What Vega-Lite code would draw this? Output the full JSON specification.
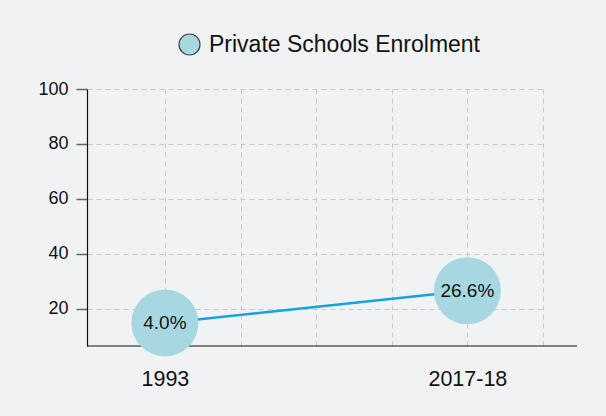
{
  "$schema": "https://vega.github.io/schema/vega-lite/v6.json",
  "width": 456,
  "height": 257,
  "autosize": {"type": "none"},
  "padding": {"left": 87, "top": 89, "right": 63, "bottom": 70},
  "background": "#f1f2f4",
  "config": {"view": {"stroke": null}, "font": "Liberation Sans"},
  "data": {
    "values": [
      {"idx": 0, "year": "1993", "pos": 14.9, "share": 4.0, "label": "4.0%", "series": "Private Schools Enrolment"},
      {"idx": 4, "year": "2017-18", "pos": 26.6, "share": 26.6, "label": "26.6%", "series": "Private Schools Enrolment"}
    ]
  },
  "layer": [
    {
      "data": {"values": [{"from": -1.03, "to": 5.45, "base": 6.5}]},
      "mark": {"type": "rule", "color": "#111", "strokeWidth": 1.2},
      "encoding": {
        "x": {
          "field": "from",
          "type": "quantitative",
          "scale": {"domain": [-1.03, 5], "nice": false, "zero": false},
          "axis": {
            "values": [0, 1, 2, 3, 4, 5],
            "labelExpr": "datum.value == 0 ? '1993' : datum.value == 4 ? '2017-18' : ''",
            "ticks": false,
            "domain": false,
            "grid": true,
            "gridDash": [5, 4],
            "gridColor": "#c8c9cc",
            "labelFontSize": 21.5,
            "labelColor": "#111",
            "labelPadding": 22,
            "labelFlush": false,
            "labelOverlap": false,
            "title": null
          }
        },
        "x2": {"field": "to"},
        "y": {
          "field": "base",
          "type": "quantitative",
          "scale": {"domain": [6.5, 100], "nice": false, "zero": false},
          "axis": {
            "values": [20, 40, 60, 80, 100],
            "tickSize": 11,
            "tickColor": "#666",
            "tickWidth": 1.5,
            "domainColor": "#111",
            "domainWidth": 1.2,
            "labelFontSize": 18,
            "labelColor": "#111",
            "labelPadding": 8,
            "grid": true,
            "gridDash": [5, 4],
            "gridColor": "#c8c9cc",
            "title": null
          }
        }
      }
    },
    {
      "mark": {"type": "line", "color": "#16a3da", "strokeWidth": 2.5},
      "encoding": {
        "x": {"field": "idx", "type": "quantitative"},
        "y": {"field": "pos", "type": "quantitative"}
      }
    },
    {
      "mark": {"type": "circle", "size": 4490, "opacity": 1},
      "encoding": {
        "x": {"field": "idx", "type": "quantitative"},
        "y": {"field": "pos", "type": "quantitative"},
        "color": {
          "field": "series",
          "type": "nominal",
          "scale": {"range": ["#a7d8e1"]},
          "legend": {
            "title": null,
            "orient": "none",
            "legendX": 91,
            "legendY": -56,
            "direction": "horizontal",
            "symbolType": "circle",
            "symbolSize": 441,
            "symbolStrokeColor": "#444",
            "symbolStrokeWidth": 1.2,
            "labelFontSize": 23,
            "labelLimit": 400,
            "labelColor": "#111",
            "labelOffset": 8
          }
        }
      }
    },
    {
      "mark": {"type": "text", "fontSize": 19, "color": "#111", "align": "center", "baseline": "middle"},
      "encoding": {
        "x": {"field": "idx", "type": "quantitative"},
        "y": {"field": "pos", "type": "quantitative"},
        "text": {"field": "label"}
      }
    }
  ]
}
